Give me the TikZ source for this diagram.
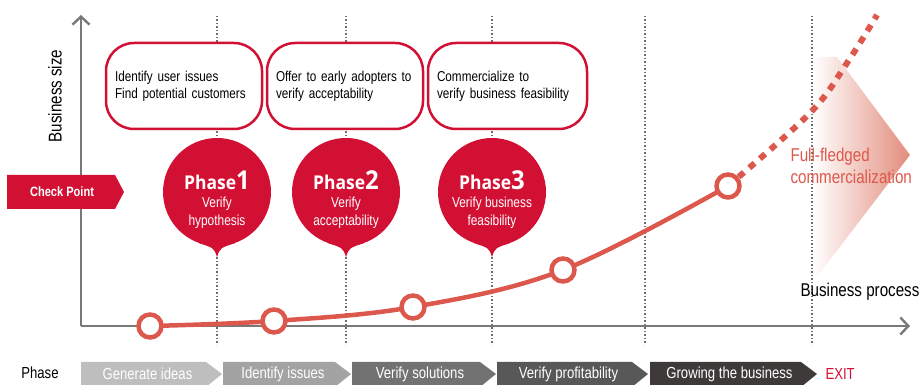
\documentclass[tikz,border=0pt]{standalone}
\usepackage{fontspec}
\setmainfont{Liberation Sans}[FakeStretch=0.82]
\newfontfamily\phasefont{Open Sans}[FakeStretch=0.92]
\usetikzlibrary{arrows.meta}
\definecolor{cpred}{RGB}{210,16,52}
\definecolor{curvered}{RGB}{221,88,76}
\definecolor{axisgray}{RGB}{120,120,120}
\definecolor{dotgray}{RGB}{110,110,110}
\definecolor{fadered}{RGB}{226,140,124}
\definecolor{barA}{RGB}{190,190,190}
\definecolor{barB}{RGB}{163,163,163}
\definecolor{barC}{RGB}{114,114,114}
\definecolor{barD}{RGB}{88,88,88}
\definecolor{barE}{RGB}{62,58,58}
\tikzset{
  axisline/.style={draw=axisgray, line width=2.4pt},
  guide/.style={draw=dotgray, line width=1.2pt, dash pattern=on 1.2pt off 2.3pt},
  infobox/.style={draw=cpred, line width=2.5pt, fill=white, rounded corners=28pt,
    minimum height=86pt, inner xsep=9pt, align=left, font=\fontsize{14.3}{17}\selectfont},
  pinhead/.style={circle, fill=cpred, minimum size=108pt, inner sep=0pt},
  phasetitle/.style={text=white, font=\phasefont\bfseries\fontsize{19}{20}\selectfont},
  phasesub/.style={text=white, align=center, font=\fontsize{14.5}{18}\selectfont},
  curveline/.style={draw=curvered, line width=4.5pt},
  dashline/.style={draw=curvered, line width=6pt, dash pattern=on 7pt off 7pt},
  milestone/.style={circle, draw=curvered, line width=4.5pt, fill=white, minimum size=23pt, inner sep=0pt},
  barlabel/.style={text=white, font=\fontsize{16}{18}\selectfont},
  plain/.style={font=\fontsize{16}{18}\selectfont},
}
\begin{document}
\begin{tikzpicture}[x=1pt,y=1pt]
\useasboundingbox (0,0) rectangle (922,385);

% gradient arrow
\shade[left color=white, middle color=fadered!40, right color=fadered]
  (813,328) -- (837,328) -- (910,230) -- (813,103) -- cycle;

% dotted guides
\foreach \x [count=\k] in {217,346,492,645,812} {
  \coordinate (gt\k) at (\x,369);
  \coordinate (gb\k) at (\x,40);
  \draw[guide] (gt\k) -- (gb\k);
}

% axes
\coordinate (origin) at (81,59);
\coordinate (ytop) at (81,370);
\coordinate (xend) at (910,59);
\draw[axisline, -{Straight Barb[length=8pt,width=17pt,line width=2.4pt]}] (origin) -- (ytop);
\draw[axisline, -{Straight Barb[length=8pt,width=17pt,line width=2.4pt]}] (origin) -- (xend);

\node[rotate=90, font=\fontsize{18.5}{20}\selectfont] (ysize) at (55,289) {Business size};
\node[anchor=west, font=\fontsize{18.5}{20}\selectfont] (xproc) at (797,93) {Business process};

% check point
\fill[cpred] (7,176) -- (115,176) -- (124,193) -- (115,210) -- (7,210) -- cycle;
\node[text=white, font=\bfseries\fontsize{13.5}{15}\selectfont] (cp) at (62,193) {Check Point};

% info boxes
\node[infobox, text width=138pt] (b1) at (184,299) {Identify user issues\\Find potential customers};
\node[infobox, text width=138pt] (b2) at (345,299) {Offer to early adopters to\\verify acceptability};
\node[infobox, text width=141pt] (b3) at (507.5,299) {Commercialize to\\verify business feasibility};

% phase pins
\foreach \i/\x/\a/\b in {1/217/Verify/hypothesis, 2/346/Verify/acceptability, 3/492/Verify business/feasibility} {
  \node[pinhead] (ph\i) at (\x,193) {};
  \coordinate (tip\i) at (\x,128);
  \fill[cpred] (ph\i.250) .. controls ([shift={(-3,9)}]tip\i) .. (tip\i)
     .. controls ([shift={(3,9)}]tip\i) .. (ph\i.290) -- (ph\i.center) -- cycle;
  \node[phasetitle] (pt\i) at (\x,205) {Phase{\fontsize{26}{26}\selectfont\i}};
  \node[phasesub] (ps\i) at (\x,172) {\a\\\b};
}

% growth curve
\coordinate (p1) at (150,59);
\coordinate (p2) at (274,64);
\coordinate (p3) at (413,78);
\coordinate (p4) at (563,115);
\coordinate (p5) at (728,199);
\coordinate (q1) at (810,272);
\coordinate (q2) at (847,322);
\coordinate (q3) at (877,370);
\draw[dashline] plot[smooth, tension=0.6] coordinates {(p5) (q1) (q2) (q3)};
\draw[curveline] plot[smooth, tension=0.6] coordinates {(p1) (p2) (p3) (p4) (p5)};
\foreach \k in {1,...,5} { \node[milestone] (m\k) at (p\k) {}; }

\node[text=curvered, align=left, anchor=west, font=\fontsize{18.5}{22}\selectfont] (full) at (787,219)
  {Full-fledged\\commercialization};

% phase bar
\node[plain, text=black] (phaselbl) at (40,12) {Phase};
\foreach \l/\r/\c/\t [count=\k] in {81/222/barA/Generate ideas, 223/351/barB/Identify issues,
    352/496/barC/Verify solutions, 497/648/barD/Verify profitability, 650/817/barE/Growing the business} {
  \fill[\c] (\l,-2) -- (\l,23) -- (\r-16,23) -- (\r,11) -- (\r-16,-2) -- cycle;
  \node[barlabel] (bar\k) at ({(\l+\r)/2-4},11) {\t};
}
\node[text=cpred, anchor=west, font=\fontsize{16}{18}\selectfont] (exit) at (822,11) {EXIT};
\end{tikzpicture}
\end{document}
